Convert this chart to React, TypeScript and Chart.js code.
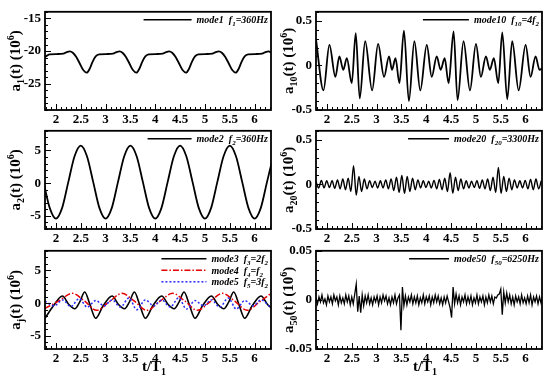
import React, { useEffect, useRef } from "react";
import { Chart, registerables } from "chart.js";

Chart.register(...registerables);

const FONT = "'Liberation Serif', 'Times New Roman', serif";

const X_MIN = 1.78;
const X_MAX = 6.33;
const X_STEP = 0.5;
const X_MINOR = 0.1;
const xTickValues = [2, 2.5, 3, 3.5, 4, 4.5, 5, 5.5, 6];

// ---------- mode1 (top-left) ----------
const mode1Ticks = [-25, -20, -15];
const mode1T = [
  1.78, 1.87, 2.02, 2.15, 2.22, 2.28, 2.34, 2.41, 2.48, 2.55,
  2.62, 2.68, 2.74, 2.8, 2.87, 3.02, 3.15, 3.22, 3.28, 3.34, 3.41, 3.48, 3.55,
  3.62, 3.68, 3.74, 3.8, 3.87, 4.02, 4.15, 4.22, 4.28, 4.34, 4.41, 4.48, 4.55,
  4.62, 4.68, 4.74, 4.8, 4.87, 5.02, 5.15, 5.22, 5.28, 5.34, 5.41, 5.48, 5.55,
  5.62, 5.68, 5.74, 5.8, 5.87, 6.02, 6.15, 6.22, 6.28, 6.34,
];
const mode1A = [
  -20.9, -20.5, -20.45, -20.4, -20.15, -20.05, -20.25, -20.9, -21.9, -22.9,
  -23.3, -22.7, -21.6, -20.8, -20.5, -20.45, -20.4, -20.15, -20.05, -20.25, -20.9, -21.9, -22.9,
  -23.3, -22.7, -21.6, -20.8, -20.5, -20.45, -20.4, -20.15, -20.05, -20.25, -20.9, -21.9, -22.9,
  -23.3, -22.7, -21.6, -20.8, -20.5, -20.45, -20.4, -20.15, -20.05, -20.25, -20.9, -21.9, -22.9,
  -23.3, -22.7, -21.6, -20.8, -20.5, -20.45, -20.4, -20.15, -20.05, -20.25,
];

// ---------- mode2 (middle-left) ----------
const mode2Ticks = [-5, 0, 5];
const mode2T = [
  1.75, 1.875, 2.0, 2.125, 2.25, 2.375, 2.5, 2.625, 2.75, 2.875,
  3.0, 3.125, 3.25, 3.375, 3.5, 3.625, 3.75, 3.875,
  4.0, 4.125, 4.25, 4.375, 4.5, 4.625, 4.75, 4.875,
  5.0, 5.125, 5.25, 5.375, 5.5, 5.625, 5.75, 5.875,
  6.0, 6.125, 6.25, 6.375,
];
const mode2A = [
  0.2, -3.77, -5.4, -3.77, 0.2, 4.12, 5.75, 4.12, 0.2, -3.77,
  -5.4, -3.77, 0.2, 4.12, 5.75, 4.12, 0.2, -3.77,
  -5.4, -3.77, 0.2, 4.12, 5.75, 4.12, 0.2, -3.77,
  -5.4, -3.77, 0.2, 4.12, 5.75, 4.12, 0.2, -3.77,
  -5.4, -3.77, 0.2, 4.12,
];

// ---------- mode3/4/5 (bottom-left) ----------
const modeJTicks = [-5, 0, 5];
const mode3T = [
  1.78, 1.95, 2.13, 2.26, 2.38, 2.48, 2.58, 2.68,
  2.8, 2.95, 3.13, 3.26, 3.38, 3.48, 3.58, 3.68,
  3.8, 3.95, 4.13, 4.26, 4.38, 4.48, 4.58, 4.68,
  4.8, 4.95, 5.13, 5.26, 5.38, 5.48, 5.58, 5.68,
  5.8, 5.95, 6.13, 6.26, 6.34,
];
const mode3A = [
  -2.3, -0.4, 1.1, -0.2, -0.85, 0.2, 1.7, -0.1,
  -2.3, -0.4, 1.1, -0.2, -0.85, 0.2, 1.7, -0.1,
  -2.3, -0.4, 1.1, -0.2, -0.85, 0.2, 1.7, -0.1,
  -2.3, -0.4, 1.1, -0.2, -0.85, 0.2, 1.7, -0.1,
  -2.3, -0.4, 1.1, -0.2, -0.75,
];
const mode4T = [
  1.78, 2.05, 2.33, 2.58, 2.82, 3.07, 3.33, 3.58, 3.83, 4.08,
  4.35, 4.6, 4.85, 5.1, 5.35, 5.6, 5.85, 6.1, 6.33,
];
const mode4A = [
  -0.8, 0.3, 1.5, 0.3, -1.1, 0.2, 1.5, 0.3, -1.1, 0.2,
  1.5, 0.3, -1.1, 0.2, 1.5, 0.3, -1.1, 0.2, 1.5,
];
const mode5T = [
  1.78, 1.97, 2.13, 2.3, 2.47, 2.63, 2.8, 2.97, 3.13, 3.3,
  3.47, 3.63, 3.8, 3.97, 4.13, 4.3, 4.47, 4.63, 4.8, 4.97,
  5.13, 5.3, 5.47, 5.63, 5.8, 5.97, 6.13, 6.3,
];
const mode5A = [
  0.3, -0.4, 0.5, -0.5, 0.7, -0.6, 0.4, -0.4, 0.5, -0.6,
  0.8, -1.0, 0.5, -0.4, 0.5, -0.6, 0.8, -0.9, 0.4, -0.4,
  0.5, -0.6, 0.8, -0.9, 0.4, -0.4, 0.5, -0.5,
];

// ---------- mode10 (top-right) ----------
const mode10Ticks = [-0.5, 0, 0.5];
const mode10T = [
  1.78, 1.93, 2.05, 2.17, 2.25, 2.33, 2.4, 2.5, 2.58, 2.66,
  2.77, 2.91, 3.03, 3.15, 3.25, 3.31, 3.38, 3.46, 3.55, 3.65,
  3.76, 3.88, 4.01, 4.11, 4.21, 4.29, 4.37, 4.45, 4.55, 4.63,
  4.75, 4.88, 5.0, 5.1, 5.2, 5.28, 5.36, 5.45, 5.53, 5.63,
  5.73, 5.86, 6.0, 6.1, 6.2, 6.28, 6.34,
];
const mode10A = [
  0.29, -0.28, 0.23, -0.13, 0.1, -0.05, 0.08, -0.2, 0.36, -0.37,
  0.27, -0.28, 0.24, -0.13, 0.1, -0.05, 0.08, -0.2, 0.39, -0.4,
  0.27, -0.28, 0.23, -0.13, 0.1, -0.05, 0.08, -0.2, 0.38, -0.39,
  0.27, -0.28, 0.24, -0.13, 0.1, -0.05, 0.08, -0.2, 0.37, -0.38,
  0.27, -0.28, 0.23, -0.13, 0.1, -0.05, -0.03,
];

// ---------- mode20 (middle-right), sampled every 0.054 from 1.78 ----------
const mode20Ticks = [-0.5, 0, 0.5];
const mode20Start = 1.78;
const mode20Dt = 0.054;
const mode20A = [
  0.03, -0.04, 0.045, -0.04, 0.04, -0.035, 0.04, -0.045, 0.05, -0.05,
  0.06, -0.06, 0.07, -0.08, 0.21, -0.12, 0.09, -0.08, 0.06, -0.05,
  0.04, -0.035, 0.035, -0.04, 0.04, -0.04, 0.05, -0.05, 0.06, -0.07,
  0.08, -0.09, 0.1, -0.1, 0.09, -0.08, 0.07, -0.06, 0.05, -0.04,
  0.04, -0.035, 0.035, -0.04,
  0.045, -0.05, 0.055, -0.06, 0.07, -0.08, 0.13, -0.1, 0.08, -0.07, 0.06, -0.05,
  0.04, -0.04, 0.035, -0.035,
  0.04, -0.045, 0.05, -0.05, 0.06, -0.07, 0.08, -0.09, 0.19, -0.1,
  0.09, -0.08, 0.07, -0.06, 0.05, -0.04, 0.04, -0.04, 0.045, -0.05,
  0.055, -0.06, 0.06, -0.05, 0.04,
];

// ---------- mode50 (bottom-right), sampled every 0.03 from 1.78 ----------
const mode50Ticks = [-0.05, 0, 0.05];
const mode50Start = 1.78;
const mode50Dt = 0.03;
const mode50A = [
  0.002, -0.004, 0.003, -0.002, 0.005, -0.003, 0.001, -0.005, 0.004, -0.002,
  0.003, -0.004, 0.005, -0.001, 0.003, -0.005, 0.004, -0.003, 0.002, -0.004,
  0.005, -0.002, 0.004, -0.005, 0.003, -0.004, 0.006, 0.016, -0.012, 0.004,
  -0.013, 0.005, -0.006, 0.004, -0.003, 0.005, -0.004, 0.002, -0.005, 0.003,
  -0.002, 0.004, -0.005, 0.003, -0.003, 0.005, -0.001, 0.004, -0.004, 0.002,
  -0.005, 0.003, -0.003, 0.005, -0.004, 0.002, 0.005, -0.031, 0.013, -0.006,
  0.004, -0.005, 0.003, -0.002, 0.005, -0.004, 0.003, -0.003, 0.004, -0.005,
  0.002, -0.003, 0.005, -0.004, 0.003, -0.002, 0.004, -0.005, 0.003, -0.003,
  0.005, -0.002, 0.004, -0.004, 0.002, -0.005, 0.003, -0.003, 0.004, -0.002,
  -0.008, -0.018, 0.013, -0.004, 0.006, -0.003, 0.004, -0.005, 0.003, -0.002,
  0.005, -0.004, 0.003, -0.003, 0.004, -0.005, 0.002, -0.003, 0.005, -0.004,
  0.003, -0.002, 0.004, -0.005, 0.003, -0.003, 0.005, -0.002, 0.004, -0.004,
  0.003, 0.002, 0.005, 0.006, 0.011, -0.015, 0.008, -0.003, 0.007, -0.002,
  0.005, -0.004, 0.003, -0.005, 0.004, -0.002, 0.003, -0.004, 0.005, -0.003,
  0.002, -0.004, 0.004, -0.003, 0.005, -0.005, 0.003, -0.002, 0.004, -0.004,
  0.003, -0.003, 0.004,
];

type Seg = { t: string; s?: "sub" | "sup" };
type Series = { t: number[]; a: number[]; color: string; width: number; dash?: number[]; smooth: boolean };
type LegendItem = { segs: Seg[]; color: string; dash?: number[] };
type PanelDef = {
  left: number; top: number; width: number; height: number;
  yAxisW: number; padRight: number; xAxisH: number; titleX: number;
  yMin: number; yMax: number; yStep: number; yMinor: number; yTicks: number[];
  yTitle: Seg[]; xTitle: boolean;
  series: Series[]; legend: LegendItem[]; legendLine: number;
};

const uniformTimes = (start: number, dt: number, n: number) =>
  Array.from({ length: n }, (_, i) => start + i * dt);

const yTitle = (sub: string): Seg[] => [
  { t: "a" }, { t: sub, s: "sub" }, { t: "(t) (10" }, { t: "6", s: "sup" }, { t: ")" },
];
const leg = (m: string, sub: string, rest: string, sub2?: string): Seg[] => {
  const s: Seg[] = [{ t: "mode" + m + "  " }, { t: "f" }, { t: sub, s: "sub" }, { t: rest }];
  if (sub2) s.push({ t: sub2, s: "sub" });
  return s;
};

const BLACK = "#000000";
const RED = "#e60000";
const BLUE = "#2a2aff";

const LEFT = { left: 0, width: 278, yAxisW: 45, padRight: 7, titleX: 15 };
const RIGHT = { left: 278, width: 272, yAxisW: 38, padRight: 8, titleX: 10 };
const ROW1 = { top: 0, height: 128, xAxisH: 18, xTitle: false };
const ROW2 = { top: 119, height: 128, xAxisH: 18, xTitle: false };
const ROW3 = { top: 239, height: 145, xAxisH: 35, xTitle: true };

const panels: PanelDef[] = [
  {
    ...LEFT, ...ROW1, yMin: -29, yMax: -14, yStep: 5, yMinor: 1, yTicks: mode1Ticks, yTitle: yTitle("1"),
    series: [{ t: mode1T, a: mode1A, color: BLACK, width: 1.8, smooth: true }],
    legend: [{ segs: leg("1", "1", "=360Hz"), color: BLACK }], legendLine: 48,
  },
  {
    ...RIGHT, ...ROW1, yMin: -0.5, yMax: 0.6, yStep: 0.5, yMinor: 0.1, yTicks: mode10Ticks, yTitle: yTitle("10"),
    series: [{ t: mode10T, a: mode10A, color: BLACK, width: 1.8, smooth: true }],
    legend: [{ segs: leg("10", "10", "=4f", "2"), color: BLACK }], legendLine: 46,
  },
  {
    ...LEFT, ...ROW2, yMin: -7, yMax: 8, yStep: 5, yMinor: 1, yTicks: mode2Ticks, yTitle: yTitle("2"),
    series: [{ t: mode2T, a: mode2A, color: BLACK, width: 1.8, smooth: true }],
    legend: [{ segs: leg("2", "2", "=360Hz"), color: BLACK }], legendLine: 44,
  },
  {
    ...RIGHT, ...ROW2, yMin: -0.5, yMax: 0.6, yStep: 0.5, yMinor: 0.1, yTicks: mode20Ticks, yTitle: yTitle("20"),
    series: [{ t: uniformTimes(mode20Start, mode20Dt, mode20A.length), a: mode20A, color: BLACK, width: 1.4, smooth: true }],
    legend: [{ segs: leg("20", "20", "=3300Hz"), color: BLACK }], legendLine: 41,
  },
  {
    ...LEFT, ...ROW3, yMin: -7, yMax: 8, yStep: 5, yMinor: 1, yTicks: modeJTicks, yTitle: yTitle("j"),
    series: [
      { t: mode5T, a: mode5A, color: BLUE, width: 1.5, dash: [2, 2], smooth: true },
      { t: mode4T, a: mode4A, color: RED, width: 1.5, dash: [6, 2, 1.5, 2], smooth: true },
      { t: mode3T, a: mode3A, color: BLACK, width: 1.6, smooth: true },
    ],
    legend: [
      { segs: leg("3", "3", "=2f", "2"), color: BLACK },
      { segs: leg("4", "4", "=f", "2"), color: RED, dash: [6, 2, 1.5, 2] },
      { segs: leg("5", "5", "=3f", "2"), color: BLUE, dash: [2, 2] },
    ], legendLine: 45,
  },
  {
    ...RIGHT, ...ROW3, yMin: -0.05, yMax: 0.05, yStep: 0.05, yMinor: 0.01, yTicks: mode50Ticks, yTitle: yTitle("50"),
    series: [{ t: uniformTimes(mode50Start, mode50Dt, mode50A.length), a: mode50A, color: BLACK, width: 1.3, smooth: false }],
    legend: [{ segs: leg("50", "50", "=6250Hz"), color: BLACK }], legendLine: 40,
  },
];

function fontStr(size: number, italic: boolean) {
  return `${italic ? "italic " : ""}bold ${size}px ${FONT}`;
}
function richWidth(ctx: CanvasRenderingContext2D, segs: Seg[], size: number, italic: boolean) {
  let w = 0;
  for (const sg of segs) {
    ctx.font = fontStr(sg.s ? Math.round(size * 0.66) : size, italic);
    w += ctx.measureText(sg.t).width;
  }
  return w;
}
function drawRich(ctx: CanvasRenderingContext2D, segs: Seg[], x: number, y: number, size: number, italic: boolean) {
  let cx = x;
  ctx.textAlign = "left";
  ctx.textBaseline = "alphabetic";
  for (const sg of segs) {
    const fs = sg.s ? Math.round(size * 0.66) : size;
    ctx.font = fontStr(fs, italic);
    const dy = sg.s === "sub" ? size * 0.28 : sg.s === "sup" ? -size * 0.4 : 0;
    ctx.fillText(sg.t, cx, y + dy);
    cx += ctx.measureText(sg.t).width;
  }
}

function makeDecor(def: PanelDef) {
  return {
    id: "decor",
    afterDraw(chart: any) {
      const ctx: CanvasRenderingContext2D = chart.ctx;
      const ca = chart.chartArea;
      const xs = chart.scales.x;
      const ys = chart.scales.y;
      ctx.save();
      ctx.strokeStyle = "#000";
      ctx.fillStyle = "#000";
      ctx.setLineDash([]);
      // inward ticks
      ctx.lineWidth = 1;
      ctx.beginPath();
      for (let k = Math.ceil(xs.min / X_MINOR - 1e-6); k * X_MINOR <= xs.max + 1e-9; k++) {
        const v = k * X_MINOR;
        const px = Math.round(xs.getPixelForValue(v)) + 0.5;
        const major = Math.abs(v / X_STEP - Math.round(v / X_STEP)) < 1e-6;
        ctx.moveTo(px, ca.bottom);
        ctx.lineTo(px, ca.bottom - (major ? 6 : 3));
      }
      for (let k = Math.ceil(ys.min / def.yMinor - 1e-6); k * def.yMinor <= ys.max + 1e-9; k++) {
        const v = k * def.yMinor;
        const py = Math.round(ys.getPixelForValue(v)) + 0.5;
        const major = Math.abs(v / def.yStep - Math.round(v / def.yStep)) < 1e-6;
        ctx.moveTo(ca.left, py);
        ctx.lineTo(ca.left + (major ? 6 : 3), py);
      }
      ctx.stroke();
      // frame
      ctx.lineWidth = 1.8;
      ctx.strokeRect(ca.left, ca.top, ca.right - ca.left, ca.bottom - ca.top);
      // y title
      const tsize = 15;
      const cy = (ca.top + ca.bottom) / 2;
      ctx.save();
      ctx.translate(def.titleX, cy);
      ctx.rotate(-Math.PI / 2);
      const tw = richWidth(ctx, def.yTitle, tsize, false);
      drawRich(ctx, def.yTitle, -tw / 2, tsize * 0.33, tsize, false);
      ctx.restore();
      // x title
      if (def.xTitle) {
        const segs: Seg[] = [{ t: "t/T" }, { t: "1", s: "sub" }];
        const w = richWidth(ctx, segs, tsize, false);
        drawRich(ctx, segs, (ca.left + ca.right) / 2 - 4 - w / 2, ca.bottom + 22, tsize, false);
      }
      // legend
      const lsize = 10;
      let maxW = 0;
      for (const it of def.legend) maxW = Math.max(maxW, richWidth(ctx, it.segs, lsize, true));
      const textX = ca.right - 3 - maxW;
      def.legend.forEach((it, i) => {
        const ly = ca.top + 8 + i * 11.5;
        ctx.strokeStyle = it.color;
        ctx.lineWidth = 1.5;
        ctx.setLineDash(it.dash || []);
        ctx.beginPath();
        ctx.moveTo(textX - 5 - def.legendLine, ly);
        ctx.lineTo(textX - 5, ly);
        ctx.stroke();
        ctx.setLineDash([]);
        ctx.fillStyle = "#000";
        drawRich(ctx, it.segs, textX, ly + 3.5, lsize, true);
      });
      ctx.restore();
    },
  };
}

const fmt = (v: number) => String(Math.round(v * 1000) / 1000);

function Panel({ def }: { def: PanelDef }) {
  const ref = useRef<HTMLCanvasElement>(null);
  useEffect(() => {
    const tickFont = { family: FONT, size: 13, weight: "bold" as const };
    const chart = new Chart(ref.current!, {
      type: "line",
      data: {
        datasets: def.series.map((s) => ({
          data: s.t.map((x, i) => ({ x, y: s.a[i] })),
          borderColor: s.color,
          borderWidth: s.width,
          borderDash: s.dash || [],
          pointRadius: 0,
          fill: false,
          tension: 0,
          cubicInterpolationMode: s.smooth ? "monotone" : "default",
        })),
      },
      options: {
        animation: false,
        responsive: false,
        maintainAspectRatio: false,
        events: [],
        layout: { padding: { top: 9, right: def.padRight, bottom: 0, left: 0 } },
        plugins: { legend: { display: false }, tooltip: { enabled: false } },
        scales: {
          x: {
            type: "linear",
            min: X_MIN,
            max: X_MAX,
            afterFit: (s: any) => { s.height = def.xAxisH; },
            afterBuildTicks: (s: any) => { s.ticks = xTickValues.map((v) => ({ value: v })); },
            grid: { display: false, drawTicks: false },
            border: { display: false },
            ticks: {
              padding: 2, font: tickFont,
              color: "#000", maxRotation: 0, autoSkip: false, callback: (v: any) => fmt(Number(v)),
            },
          },
          y: {
            type: "linear",
            min: def.yMin,
            max: def.yMax,
            afterFit: (s: any) => { s.width = def.yAxisW; },
            afterBuildTicks: (s: any) => { s.ticks = def.yTicks.map((v) => ({ value: v })); },
            grid: { display: false, drawTicks: false },
            border: { display: false },
            ticks: {
              padding: 4, font: tickFont,
              color: "#000", autoSkip: false, callback: (v: any) => fmt(Number(v)),
            },
          },
        },
      } as any,
      plugins: [makeDecor(def)],
    });
    return () => chart.destroy();
  }, []);
  return (
    <canvas
      ref={ref}
      width={def.width}
      height={def.height}
      style={{ position: "absolute", left: def.left, top: def.top, width: def.width, height: def.height }}
    />
  );
}

export default function App() {
  return (
    <div style={{ position: "fixed", left: 0, top: 0, width: 550, height: 384, background: "#fff", overflow: "hidden" }}>
      {panels.map((p, i) => (
        <Panel key={i} def={p} />
      ))}
    </div>
  );
}
